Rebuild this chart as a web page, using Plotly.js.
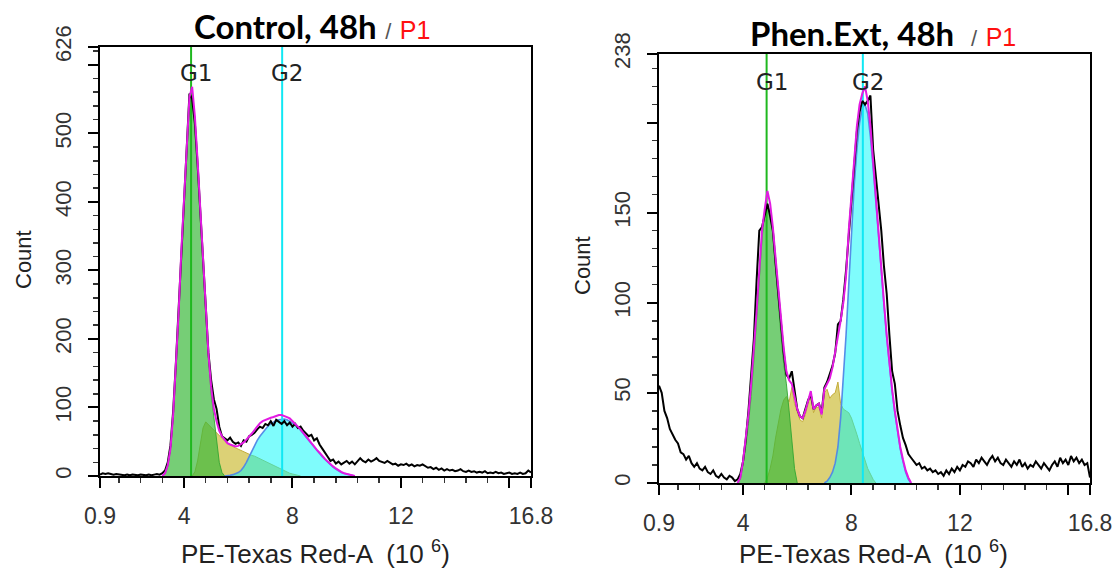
<!DOCTYPE html>
<html><head><meta charset="utf-8">
<script src="https://cdn.plot.ly/plotly-3.0.1.min.js"></script>
<style>html,body{margin:0;padding:0;background:#fff}#chart{width:1116px;height:578px}</style>
</head><body><div id="chart"></div>
<script>
// ---------- DATA (counts per bin, bins 0.1 wide, PE-Texas Red-A x10^6) ----------
const xTickVals = [0.9, 4, 8, 12, 16, 16.8];
const xTickText = ['0.9', '4', '8', '12', '', '16.8'];

// Control, 48h
const ctrlYMax = 626;
const ctrlYTickVals = [0, 100, 200, 300, 400, 500, 600, 626];
const ctrlYTickText = ['0', '100', '200', '300', '400', '500', '', '626'];
const ctrlG1 = 4.26, ctrlG2 = 7.62;
const ctrlBlackStart = 0.9;
const ctrlBlack = [2,4,3,4,3,2,3,2,2,1, 2,1,2,1,1,2,1,1,2,1, 2,3,2,4,8,20,45,95,165,245,
  330,415,500,558,550,515,455,385,310,240, 180,140,112,98,72,58,55,52,56,50,
  47,49,44,52,50,58,60,63,68,72, 70,76,74,80,73,82,79,76,80,74,
  78,72,76,70,72,66,62,58,60,52, 55,46,40,33,28,22,24,18,21,17,
  19,22,18,21,17,22,26,22,20,24, 21,23,26,22,21,19,22,20,17,18,
  15,17,16,18,15,17,14,16,15,17, 14,12,13,10,12,9,11,8,10,8,
  9,7,8,10,7,6,8,6,7,5, 6,5,7,4,5,4,6,4,5,3, 4,5,3,4,3,5,3,4,8,5];
const ctrlGreenStart = 3.2;
const ctrlGreen = [0,3,14,38,88,155,235,325,405,490,550,562,520,455,385,310,235,170,120,85,50,20,5,0];
const ctrlYellowStart = 4.3;
const ctrlYellow = [0,6,22,48,70,79,75,70,66,62, 58,54,51,48,45,43,41,39,37,35,
  33,31,30,29,27,25,24,22,20,18, 16,14,12,10,8,6,4,3,2,1, 0];
const ctrlCyanStart = 5.5;
const ctrlCyan = [0,0,1,2,3,5,8,13,20,28, 37,45,52,58,63,68,73,76,79,81,
  82,83,83,82,80,78,75,71,67,62, 57,52,47,42,37,32,28,24,20,16, 13,10,7,5,4,3,2,1,0];
const ctrlFitStart = 3.2;
const ctrlFit = [0,4,16,40,90,158,238,328,408,493, 553,568,525,460,390,315,240,178,130,98,
  80,66,58,52,48,46,44,43,44,46, 49,53,57,62,67,72,77,80,82,84,
  85,86,88,89,89,88,86,84,80,77, 72,68,63,58,52,48,43,38,34,29,
  25,21,17,14,11,8,6,4,3,2, 1,0];

// Phen.Ext, 48h
const phenYMax = 238;
const phenYTickVals = [0, 50, 100, 150, 200, 238];
const phenYTickText = ['0', '50', '100', '150', '', '238'];
const phenG1 = 4.87, phenG2 = 8.42;
const phenBlackStart = 0.9;
const phenBlack = [54,50,40,36,30,27,24,22,17,16, 13,15,11,9,11,8,7,9,6,5, 7,4,3,5,3,2,4,3,1,2,
  5,12,24,40,58,80,112,140,142,148, 155,148,140,122,104,88,72,60,58,62,
  50,41,37,36,41,46,49,41,43,44, 39,53,56,60,65,72,88,90,102,118,
  138,158,178,195,206,212,210,212,215,185, 170,155,140,120,105,82,62,55,40,32,
  25,21,16,14,12,10,11,8,9,7, 8,6,7,5,6,4,7,5,8,6, 9,7,10,9,12,11,9,13,11,14,
  12,10,13,15,12,14,11,10,13,11, 9,12,10,13,9,11,8,10,9,12, 10,8,11,9,7,10,12,9,14,11,
  13,10,15,12,14,11,13,10,11,3];
const phenGreenStart = 3.8;
const phenGreen = [0,2,10,20,33,48,68,92,115,135,150,155,150,138,120,100,82,66,55,40,22,8,0];
const phenYellowStart = 4.8;
const phenYellow = [0,3,8,15,25,34,41,46,48,45, 53,44,40,35,34,38,44,50,39,42,
  42,36,50,52,47,49,50,56,44,41, 40,39,36,32,27,22,17,12,8,5, 2,0];
const phenCyanStart = 7.0;
const phenCyan = [0,1,3,6,11,20,36,57,82,110, 140,165,185,200,208,210,205,192,175,155,
  135,117,99,81,65,51,39,28,19,12, 6,2,0];
const phenFitStart = 3.8;
const phenFit = [0,3,12,24,38,55,73,95,118,140, 152,162,155,142,125,107,90,75,62,57,
  55,47,41,37,36,40,46,51,41,43, 44,38,52,55,58,64,72,82,90,100,
  115,140,160,180,198,210,216,220,212,198, 178,157,136,118,100,82,66,52,40,29,
  20,13,7,3,0];

// ---------- helpers ----------
const BIN = 0.1;
function binX(start, n) { const a = []; for (let i = 0; i < n; i++) a.push(Math.round((start + i * BIN) * 100) / 100); return a; }

const W = 1116, H = 578;
const FILL_Y = 'rgba(205,190,60,0.7)', LINE_Y = 'rgba(196,172,58,1)';
const FILL_G = 'rgba(60,185,60,0.7)', LINE_G = 'rgba(50,165,50,0.9)';
const FILL_C = 'rgba(0,250,250,0.5)', LINE_C = 'rgba(80,135,230,0.95)';

function panelTraces(xa, ya, d) {
  const t = [];
  const base = {type: 'scatter', mode: 'lines', xaxis: xa, yaxis: ya, hoverinfo: 'skip', showlegend: false};
  t.push(Object.assign({}, base, {x: binX(d.yS, d.y.length), y: d.y, fill: 'tozeroy', fillcolor: FILL_Y, line: {color: LINE_Y, width: 1}}));
  t.push(Object.assign({}, base, {x: binX(d.gS, d.g.length), y: d.g, fill: 'tozeroy', fillcolor: FILL_G, line: {color: LINE_G, width: 1}}));
  t.push(Object.assign({}, base, {x: binX(d.cS, d.c.length), y: d.c, fill: 'tozeroy', fillcolor: FILL_C, line: {color: LINE_C, width: 1.6}}));
  t.push(Object.assign({}, base, {x: [d.g1, d.g1], y: [0, d.ymax], line: {color: '#1fb81f', width: 2}}));
  t.push(Object.assign({}, base, {x: [d.g2, d.g2], y: [0, d.ymax], line: {color: '#10e8f4', width: 2}}));
  t.push(Object.assign({}, base, {x: binX(d.bS, d.b.length), y: d.b, line: {color: '#000', width: 2}}));
  t.push(Object.assign({}, base, {x: binX(d.fS, d.f.length), y: d.f, line: {color: '#e21ae2', width: 2}}));
  return t;
}

const traces = [].concat(
  panelTraces('x', 'y', {yS: ctrlYellowStart, y: ctrlYellow, gS: ctrlGreenStart, g: ctrlGreen, cS: ctrlCyanStart, c: ctrlCyan,
    bS: ctrlBlackStart, b: ctrlBlack, fS: ctrlFitStart, f: ctrlFit, g1: ctrlG1, g2: ctrlG2, ymax: ctrlYMax}),
  panelTraces('x2', 'y2', {yS: phenYellowStart, y: phenYellow, gS: phenGreenStart, g: phenGreen, cS: phenCyanStart, c: phenCyan,
    bS: phenBlackStart, b: phenBlack, fS: phenFitStart, f: phenFit, g1: phenG1, g2: phenG2, ymax: phenYMax})
);

const xTickFont = {family: 'Liberation Sans, Arial, sans-serif', size: 23, color: '#333'};
const yTickFont = {family: 'Liberation Sans, Arial, sans-serif', size: 22, color: '#333'};
function xAxis(domain, anchor) {
  return {domain: domain, anchor: anchor, range: [0.9, 16.8], tickmode: 'array', tickvals: xTickVals, ticktext: xTickText,
    showline: true, linecolor: '#000', linewidth: 2, mirror: true, ticks: 'outside', ticklen: 10, tickwidth: 2, tickcolor: '#000',
    ticklabelstandoff: 8, tickfont: xTickFont, showgrid: false, zeroline: false, fixedrange: true,
    minor: {tickmode: 'linear', tick0: 0, dtick: 0.8, ticks: 'outside', ticklen: 5, tickwidth: 1.5, tickcolor: '#333', showgrid: false}};
}
function yAxis(domain, anchor, ymax, vals, text, minorStep) {
  return {domain: domain, anchor: anchor, range: [0, ymax], tickmode: 'array', tickvals: vals, ticktext: text, tickangle: -90,
    showline: true, linecolor: '#000', linewidth: 2, mirror: true, ticks: 'outside', ticklen: 10, tickwidth: 2, tickcolor: '#000',
    ticklabelstandoff: 8, tickfont: yTickFont, showgrid: false, zeroline: false, fixedrange: true,
    minor: {tickmode: 'linear', tick0: 0, dtick: minorStep, ticks: 'outside', ticklen: 5, tickwidth: 1.5, tickcolor: '#333', showgrid: false}};
}

const titleFont = {family: 'Lato, Open Sans, sans-serif', size: 33, color: '#000'};
const slashP1 = ' <span style="color:#555;font-family:Liberation Sans;font-size:22px">/</span> <span style="color:#ff1010;font-family:Liberation Sans;font-size:25px">P1</span>';
const gFont = {family: 'DejaVu Sans, Verdana, sans-serif', size: 23, color: '#222'};
const axTitleFont = {family: 'Liberation Sans, Arial, sans-serif', size: 22, color: '#222'};
const xTitleFont = {family: 'Liberation Sans, Arial, sans-serif', size: 26, color: '#222'};
const xTitle = 'PE-Texas Red-A  (10 <sup>6</sup>)';

const layout = {
  width: W, height: H, margin: {l: 0, r: 0, t: 0, b: 0},
  paper_bgcolor: '#fff', plot_bgcolor: '#fff', showlegend: false,
  xaxis: xAxis([100 / W, 531 / W], 'y'),
  yaxis: yAxis([1 - 476 / H, 1 - 47 / H], 'x', ctrlYMax, ctrlYTickVals, ctrlYTickText, 20),
  xaxis2: xAxis([659 / W, 1090 / W], 'y2'),
  yaxis2: yAxis([1 - 483 / H, 1 - 54 / H], 'x2', phenYMax, phenYTickVals, phenYTickText, 10),
  annotations: [
    {xref: 'paper', yref: 'paper', x: 312 / W, y: 1 - 26 / H, xanchor: 'center', yanchor: 'middle', showarrow: false,
      text: '<b>Control, 48h</b>' + slashP1, font: titleFont},
    {xref: 'paper', yref: 'paper', x: 883 / W, y: 1 - 33 / H, xanchor: 'center', yanchor: 'middle', showarrow: false,
      text: '<b>Phen.Ext, 48h</b> ' + slashP1, font: titleFont},
    {xref: 'x', yref: 'paper', x: ctrlG1, xshift: 5, y: 1 - 73 / H, xanchor: 'center', yanchor: 'middle', showarrow: false, text: 'G1', font: gFont},
    {xref: 'x', yref: 'paper', x: ctrlG2, xshift: 5, y: 1 - 73 / H, xanchor: 'center', yanchor: 'middle', showarrow: false, text: 'G2', font: gFont},
    {xref: 'x2', yref: 'paper', x: phenG1, xshift: 5, y: 1 - 82 / H, xanchor: 'center', yanchor: 'middle', showarrow: false, text: 'G1', font: gFont},
    {xref: 'x2', yref: 'paper', x: phenG2, xshift: 5, y: 1 - 82 / H, xanchor: 'center', yanchor: 'middle', showarrow: false, text: 'G2', font: gFont},
    {xref: 'paper', yref: 'paper', x: 23 / W, y: 1 - 260 / H, xanchor: 'center', yanchor: 'middle', textangle: -90, showarrow: false, text: 'Count', font: axTitleFont},
    {xref: 'paper', yref: 'paper', x: 583 / W, y: 1 - 266 / H, xanchor: 'center', yanchor: 'middle', textangle: -90, showarrow: false, text: 'Count', font: axTitleFont},
    {xref: 'paper', yref: 'paper', x: 315 / W, y: 1 - 552 / H, xanchor: 'center', yanchor: 'middle', showarrow: false, text: xTitle, font: xTitleFont},
    {xref: 'paper', yref: 'paper', x: 873 / W, y: 1 - 552 / H, xanchor: 'center', yanchor: 'middle', showarrow: false, text: xTitle, font: xTitleFont}
  ]
};

Plotly.newPlot('chart', traces, layout, {staticPlot: true, displayModeBar: false});
</script></body></html>
